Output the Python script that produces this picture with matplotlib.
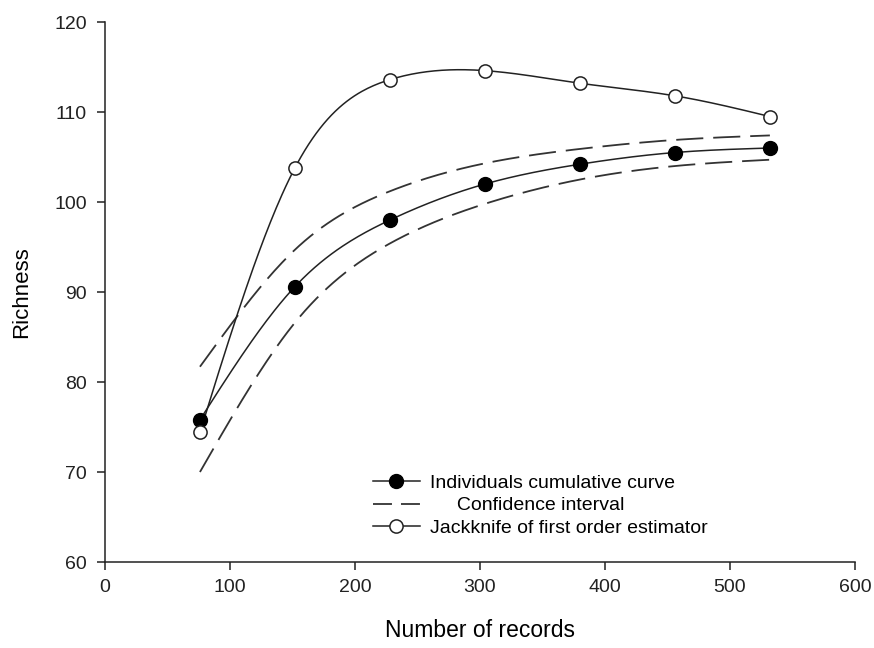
import numpy as np
import matplotlib.pyplot as plt

plt.rcParams['font.family'] = ['Liberation Sans', 'DejaVu Sans']

# values
records = [76, 152, 228, 304, 380, 456, 532]
individuals = [75.8, 90.6, 98.0, 102.0, 104.2, 105.5, 106.0]
ci_upper = [81.7, 94.7, 101.2, 104.3, 105.9, 106.9, 107.4]
ci_lower = [70.0, 86.6, 95.4, 99.8, 102.5, 104.0, 104.7]
jackknife = [74.4, 103.8, 113.6, 114.6, 113.2, 111.8, 109.5]


def spline(x, y, n=300):
    # natural cubic spline, only used to draw the smooth line through the points
    x = np.asarray(x, float)
    y = np.asarray(y, float)
    k = len(x)
    h = np.diff(x)
    A = np.zeros((k, k))
    b = np.zeros(k)
    A[0, 0] = A[-1, -1] = 1.0
    for i in range(1, k - 1):
        A[i, i - 1] = h[i - 1]
        A[i, i] = 2 * (h[i - 1] + h[i])
        A[i, i + 1] = h[i]
        b[i] = 6 * ((y[i + 1] - y[i]) / h[i] - (y[i] - y[i - 1]) / h[i - 1])
    m = np.linalg.solve(A, b)
    xs = np.linspace(x[0], x[-1], n)
    idx = np.clip(np.searchsorted(x, xs) - 1, 0, k - 2)
    x0, x1 = x[idx], x[idx + 1]
    hh = x1 - x0
    t0, t1 = x1 - xs, xs - x0
    ys = (m[idx] * t0**3 + m[idx + 1] * t1**3) / (6 * hh) \
        + (y[idx] / hh - m[idx] * hh / 6) * t0 \
        + (y[idx + 1] / hh - m[idx + 1] * hh / 6) * t1
    return xs, ys


fig = plt.figure(figsize=(8.74, 6.48), dpi=100)
ax = fig.add_axes([0.1201, 0.1327, 0.858, 0.8333])

lc = '#222222'
dc = '#333333'
dash = (15, 5.5)

xs, ys = spline(records, individuals)
ax.plot(xs, ys, color=lc, lw=1.1)
ax.plot(records, individuals, 'o', color='black', ms=10, zorder=3)

xs, ys = spline(records, ci_upper)
ax.plot(xs, ys, color=dc, lw=1.3, dashes=dash)
xs, ys = spline(records, ci_lower)
ax.plot(xs, ys, color=dc, lw=1.3, dashes=dash)

xs, ys = spline(records, jackknife)
ax.plot(xs, ys, color=lc, lw=1.1)
ax.plot(records, jackknife, 'o', mfc='white', mec=lc, mew=1.1, ms=9.5, zorder=3)

# legend handles
h1, = ax.plot([], [], '-o', color=lc, mfc='black', mec='black', ms=10, lw=1.1)
h2, = ax.plot([], [], color=dc, lw=1.3, dashes=(10.5, 5))
h3, = ax.plot([], [], '-o', color=lc, mfc='white', mec=lc, mew=1.1, ms=9.5, lw=1.1)
ax.legend([h1, h2, h3],
          ['Individuals cumulative curve', '     Confidence interval',
           'Jackknife of first order estimator'],
          frameon=False, fontsize=14, loc='lower left',
          bbox_to_anchor=(0.334, 0.014), handlelength=2.4,
          handletextpad=0.55, labelspacing=0.25)

ax.set_xlim(0, 600)
ax.set_ylim(60, 120)
ax.set_xticks(range(0, 601, 100))
ax.set_yticks(range(60, 121, 10))
ax.spines['top'].set_visible(False)
ax.spines['right'].set_visible(False)
for s in ['left', 'bottom']:
    ax.spines[s].set_linewidth(1.1)
    ax.spines[s].set_color('#222222')
ax.tick_params(direction='out', length=6, width=1.1, labelsize=14, pad=6, colors='#222222')
ax.tick_params(axis='y', pad=7)
ax.set_xlabel('Number of records', fontsize=16.5, labelpad=17)
ax.set_ylabel('Richness', fontsize=16, labelpad=16)

fig.savefig('out.png', dpi=100)
